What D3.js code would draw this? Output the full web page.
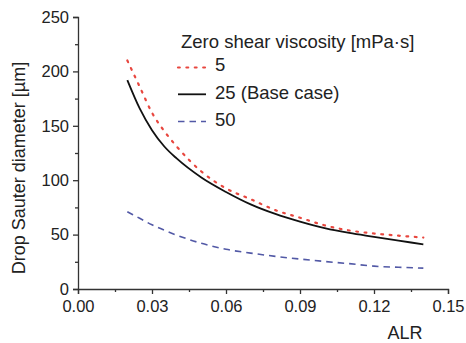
<!DOCTYPE html>
<html><head><meta charset="utf-8">
<script src="https://cdn.jsdelivr.net/npm/d3@7/dist/d3.min.js"></script>
<style>body{margin:0;background:#fff}text{font-family:Arial,"Liberation Sans",sans-serif;fill:#222}</style>
</head><body><svg id="c" width="466" height="343"></svg>
<script>
const alr    = [0.02,0.025,0.03,0.035,0.04,0.05,0.06,0.07,0.08,0.09,0.10,0.11,0.12,0.13,0.14];
const visc5  = [210,186,162,145,131,108,92.5,82.5,72.5,65.5,58.5,53.8,51,49,47.3];
const visc25 = [192,166,146,131,120,102.5,89.2,77.8,69,62,56,51.5,48,44.5,41];
const visc50 = [71,65,59,54,49.5,42,36.5,33,30,27.5,25.3,23.3,21,20,19.2];
const seriesNames = ["5","25 (Base case)","50"];
const xTicks = [0,0.03,0.06,0.09,0.12,0.15];
const yTicks = [0,50,100,150,200,250];

const svg = d3.select("#c");
const x = d3.scaleLinear().domain([0,0.15]).range([78,448]);
const y = d3.scaleLinear().domain([0,250]).range([289,17]);

const styles = [
  {color:"#e8473f", dash:"1.8,6.6", width:2.2, cap:"round", data:visc5},
  {color:"#111", dash:null, width:1.8, cap:"butt", data:visc25},
  {color:"#5259a6", dash:"6.5,5", width:1.6, cap:"butt", data:visc50}
];

// axes
const xAxis = d3.axisBottom(x).tickValues(xTicks).tickFormat(d3.format(".2f")).tickSizeOuter(0).tickSize(5);
const gx = svg.append("g").attr("transform","translate(0,289)").call(xAxis);
gx.selectAll("text").attr("font-size",16.5).attr("dy","0.92em");
svg.append("g").attr("transform","translate(0,289)")
  .call(d3.axisBottom(x).tickValues(d3.range(0.015,0.15,0.03)).tickFormat("").tickSize(3).tickSizeOuter(0))
  .select(".domain").remove();

const yAxis = d3.axisLeft(y).tickValues(yTicks).tickSizeOuter(0).tickSize(5);
const gy = svg.append("g").attr("transform","translate(78,0)").call(yAxis);
gy.selectAll("text").attr("font-size",16.5).attr("x",-9);
svg.append("g").attr("transform","translate(78,0)")
  .call(d3.axisLeft(y).tickValues(d3.range(25,250,50)).tickFormat("").tickSize(3).tickSizeOuter(0))
  .select(".domain").remove();
svg.selectAll(".domain,.tick line").attr("stroke","#333").attr("stroke-width",1.3);

// labels
svg.append("text").attr("transform","translate(25,168) rotate(-90)").attr("text-anchor","middle")
  .attr("font-size",18).text("Drop Sauter diameter [µm]");
svg.append("text").attr("x",405).attr("y",339).attr("text-anchor","middle").attr("font-size",18).text("ALR");

// lines
const line = d3.line().x((d,i)=>x(alr[i])).y(d=>y(d)).curve(d3.curveMonotoneX);
styles.forEach(s=>{
  svg.append("path").datum(s.data).attr("d",line).attr("fill","none")
    .attr("stroke",s.color).attr("stroke-width",s.width)
    .attr("stroke-dasharray",s.dash).attr("stroke-linecap",s.cap);
});

// legend
svg.append("text").attr("x",181).attr("y",48).attr("font-size",18.5).text("Zero shear viscosity [mPa·s]");
const legLineY = [67.5,94.3,121.5];
const legTextY = [70.5,99,125.5];
styles.forEach((s,i)=>{
  svg.append("line").attr("x1",178).attr("x2",206).attr("y1",legLineY[i]).attr("y2",legLineY[i])
    .attr("stroke",s.color).attr("stroke-width",s.width).attr("stroke-dasharray",s.dash).attr("stroke-linecap",s.cap);
  svg.append("text").attr("x",215).attr("y",legTextY[i]).attr("font-size",18.5).text(seriesNames[i]);
});
</script></body></html>
